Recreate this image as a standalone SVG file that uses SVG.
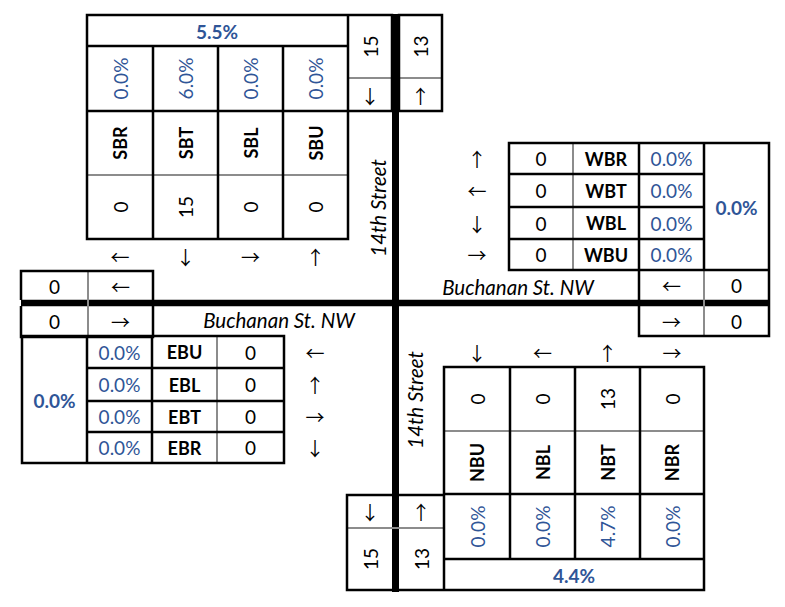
<svg xmlns="http://www.w3.org/2000/svg" width="785" height="607" viewBox="0 0 785 607">
  <style>
    text { font-family: Lato, "Liberation Sans", sans-serif; font-size: 19px; text-anchor: middle; dominant-baseline: central; fill: #000; }
    .b { font-weight: bold; font-size: 18px; }
    .p { fill: #2F5597; }
    .pb { fill: #2F5597; font-weight: bold; font-size: 19px; }
    .it { font-style: italic; font-size: 20.5px; }
    .ar { font-family: "Noto Sans CJK SC", "DejaVu Sans", sans-serif; font-size: 19px; }
    .k { fill: none; stroke: #000; stroke-width: 2.5; }
    .g { fill: none; stroke: #8c8c8c; stroke-width: 2; }
    .road { fill: none; stroke: #000; }
  </style>
  <rect width="785" height="607" fill="#fff"/>

  <!-- street centre lines -->
  <g id="streets">
    <line class="road" x1="395.5" y1="14" x2="395.5" y2="592" stroke-width="7"/>
    <line class="road" x1="21" y1="303" x2="769" y2="303" stroke-width="6.5"/>
    <text class="it" transform="rotate(-90 378 208)" x="378" y="208">14th Street</text>
    <text class="it" transform="rotate(-90 415 400)" x="415" y="400">14th Street</text>
    <text class="it" x="518" y="287">Buchanan St. NW</text>
    <text class="it" x="279" y="320">Buchanan St. NW</text>
  </g>

  <!-- southbound approach -->
  <g id="southbound">
    <path class="g" d="M87 175H348M348 78H392M399 78H442"/>
    <path class="k" d="M87 15H392V111H87ZM87 15V239H348V15M87 46H348M153 46V239M218 46V239M283 46V239M399 15H442V111H399Z"/>
    <text class="pb" x="217" y="31">5.5%</text>
    <text class="p" transform="rotate(-90 120 78.5)" x="120" y="78.5">0.0%</text>
    <text class="p" transform="rotate(-90 185.5 78.5)" x="185.5" y="78.5">6.0%</text>
    <text class="p" transform="rotate(-90 250.5 78.5)" x="250.5" y="78.5">0.0%</text>
    <text class="p" transform="rotate(-90 315.5 78.5)" x="315.5" y="78.5">0.0%</text>
    <text class="b" transform="rotate(-90 120 143)" x="120" y="143">SBR</text>
    <text class="b" transform="rotate(-90 185.5 143)" x="185.5" y="143">SBT</text>
    <text class="b" transform="rotate(-90 250.5 143)" x="250.5" y="143">SBL</text>
    <text class="b" transform="rotate(-90 315.5 143)" x="315.5" y="143">SBU</text>
    <text transform="rotate(-90 120 207)" x="120" y="207">0</text>
    <text transform="rotate(-90 185.5 207)" x="185.5" y="207">15</text>
    <text transform="rotate(-90 250.5 207)" x="250.5" y="207">0</text>
    <text transform="rotate(-90 315.5 207)" x="315.5" y="207">0</text>
    <text class="ar" x="120" y="256">←</text>
    <text class="ar" x="185.5" y="256">↓</text>
    <text class="ar" x="250.5" y="256">→</text>
    <text class="ar" x="315.5" y="256">↑</text>
    <text transform="rotate(-90 370 46.5)" x="370" y="46.5">15</text>
    <text transform="rotate(-90 420.5 46.5)" x="420.5" y="46.5">13</text>
    <text class="ar" x="370" y="95">↓</text>
    <text class="ar" x="420.5" y="95">↑</text>
  </g>

  <!-- westbound approach -->
  <g id="westbound">
    <path class="g" d="M573 143V270M704 270V336"/>
    <path class="k" d="M509 143H769V270H509ZM509 174H704M509 207H704M509 239H704M639 143V270M704 143V270M639 270V336H769V270"/>
    <text class="ar" x="477" y="158.5">↑</text>
    <text class="ar" x="477" y="190.5">←</text>
    <text class="ar" x="477" y="223">↓</text>
    <text class="ar" x="477" y="254.5">→</text>
    <text x="541" y="158.5">0</text>
    <text x="541" y="190.5">0</text>
    <text x="541" y="223">0</text>
    <text x="541" y="254.5">0</text>
    <text class="b" x="606" y="158.5">WBR</text>
    <text class="b" x="606" y="190.5">WBT</text>
    <text class="b" x="606" y="223">WBL</text>
    <text class="b" x="606" y="254.5">WBU</text>
    <text class="p" x="671.5" y="158.5">0.0%</text>
    <text class="p" x="671.5" y="190.5">0.0%</text>
    <text class="p" x="671.5" y="223">0.0%</text>
    <text class="p" x="671.5" y="254.5">0.0%</text>
    <text class="pb" x="736.5" y="207">0.0%</text>
    <text class="ar" x="671.5" y="285">←</text>
    <text x="736.5" y="285">0</text>
    <text class="ar" x="671.5" y="321">→</text>
    <text x="736.5" y="321">0</text>
  </g>

  <!-- eastbound approach -->
  <g id="eastbound">
    <path class="g" d="M88 271V337M217 336V463"/>
    <path class="k" d="M21 300V271H153V300M21 306V337H153V306M22 336H284V463H22ZM87 336V463M152 336V463M87 368H284M87 401H284M87 432H284"/>
    <text x="54.5" y="286">0</text>
    <text class="ar" x="120.5" y="286">←</text>
    <text x="54.5" y="321">0</text>
    <text class="ar" x="120.5" y="321">→</text>
    <text class="pb" x="54.5" y="400">0.0%</text>
    <text class="p" x="119.5" y="352">0.0%</text>
    <text class="p" x="119.5" y="384.5">0.0%</text>
    <text class="p" x="119.5" y="416.5">0.0%</text>
    <text class="p" x="119.5" y="447.5">0.0%</text>
    <text class="b" x="184.5" y="352">EBU</text>
    <text class="b" x="184.5" y="384.5">EBL</text>
    <text class="b" x="184.5" y="416.5">EBT</text>
    <text class="b" x="184.5" y="447.5">EBR</text>
    <text x="250.5" y="352">0</text>
    <text x="250.5" y="384.5">0</text>
    <text x="250.5" y="416.5">0</text>
    <text x="250.5" y="447.5">0</text>
    <text class="ar" x="315" y="352">←</text>
    <text class="ar" x="315" y="384.5">↑</text>
    <text class="ar" x="315" y="416.5">→</text>
    <text class="ar" x="315" y="447.5">↓</text>
  </g>

  <!-- northbound approach -->
  <g id="northbound">
    <path class="g" d="M444 431H704M347 528H444"/>
    <path class="k" d="M444 367H704V590H444ZM444 494H704M444 559H704M510 367V559M575 367V559M640 367V559M392 495H347V590H392M399 495H444M399 590H444"/>
    <text class="ar" x="477" y="352">↓</text>
    <text class="ar" x="542.5" y="352">←</text>
    <text class="ar" x="607.5" y="352">↑</text>
    <text class="ar" x="672" y="352">→</text>
    <text transform="rotate(-90 477 399)" x="477" y="399">0</text>
    <text transform="rotate(-90 542.5 399)" x="542.5" y="399">0</text>
    <text transform="rotate(-90 607.5 399)" x="607.5" y="399">13</text>
    <text transform="rotate(-90 672 399)" x="672" y="399">0</text>
    <text class="b" transform="rotate(-90 477 462.5)" x="477" y="462.5">NBU</text>
    <text class="b" transform="rotate(-90 542.5 462.5)" x="542.5" y="462.5">NBL</text>
    <text class="b" transform="rotate(-90 607.5 462.5)" x="607.5" y="462.5">NBT</text>
    <text class="b" transform="rotate(-90 672 462.5)" x="672" y="462.5">NBR</text>
    <text class="p" transform="rotate(-90 477 526.5)" x="477" y="526.5">0.0%</text>
    <text class="p" transform="rotate(-90 542.5 526.5)" x="542.5" y="526.5">0.0%</text>
    <text class="p" transform="rotate(-90 607.5 526.5)" x="607.5" y="526.5">4.7%</text>
    <text class="p" transform="rotate(-90 672 526.5)" x="672" y="526.5">0.0%</text>
    <text class="pb" x="574" y="575">4.4%</text>
    <text class="ar" x="370" y="511">↓</text>
    <text class="ar" x="421" y="511">↑</text>
    <text transform="rotate(-90 370 559)" x="370" y="559">15</text>
    <text transform="rotate(-90 421 559)" x="421" y="559">13</text>
  </g>
</svg>
